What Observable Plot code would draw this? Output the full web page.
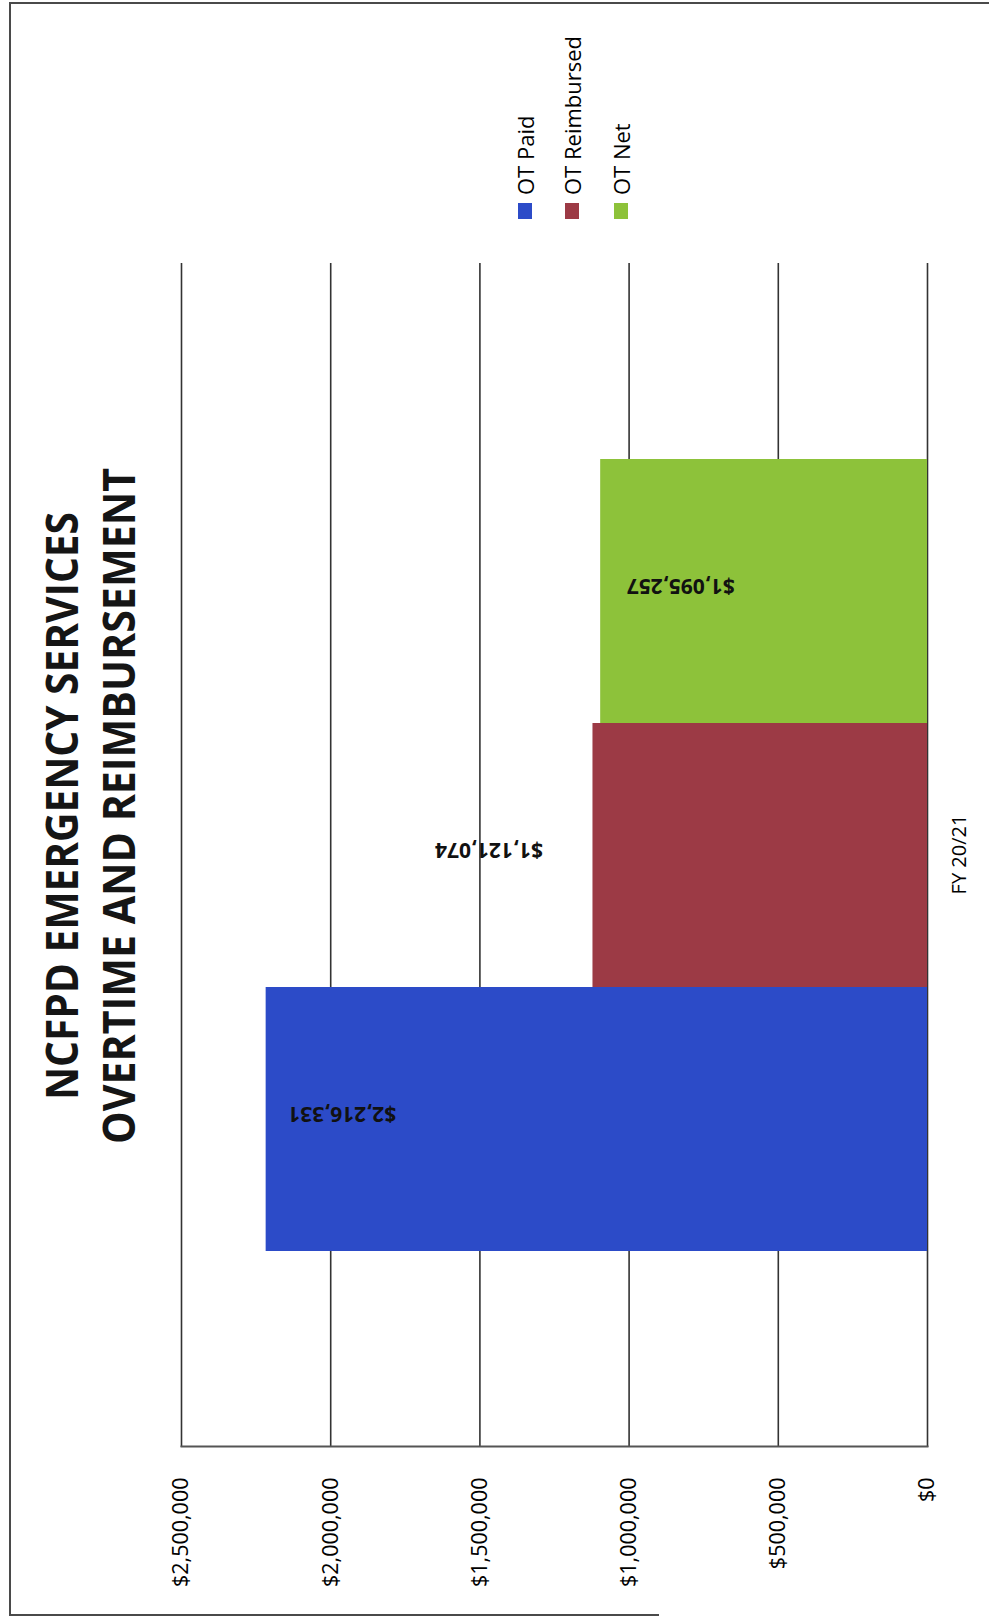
<!DOCTYPE html>
<html>
<head>
<meta charset="utf-8">
<script src="https://cdn.jsdelivr.net/npm/d3@7"></script>
<script src="https://cdn.jsdelivr.net/npm/@observablehq/plot@0.6"></script>
<style>
  body { margin: 0; background: #fff; }
  #page { position: relative; width: 989px; height: 1618px; overflow: hidden; background: #fff; }
  .fl { position: absolute; background: #4a4a4a; }
  #rot { position: absolute; left: 0; top: 0; width: 1618px; height: 989px;
         transform-origin: 0 0; transform: translate(0px, 1618px) rotate(-90deg); }
  #chart { position: absolute; left: 0; top: 0; }
  #title { position: absolute; left: 0; top: 0; }
  #legend { position: absolute; left: 1399px; top: 0; font-family: 'Open Sans', sans-serif; font-size: 22px; color: #000; }
  .li { position: absolute; left: 0; white-space: nowrap; display: flex; align-items: center; height: 30px; }
  .sw { width: 16px; height: 14px; margin-right: 8px; flex: none; }
</style>
</head>
<body>
<div id="page">
  <div class="fl" style="left:9px;top:2px;width:2px;height:1614px"></div>
  <div class="fl" style="left:9px;top:2px;width:980px;height:2px"></div>
  <div class="fl" style="left:9px;top:1614px;width:650px;height:2px"></div>
  <div id="rot">
    <div id="chart"></div>
    <svg id="title" width="1618" height="170"></svg>
    <div id="legend"></div>
  </div>
</div>
<script>
// ---- data ----
const categories = ["FY 20/21"];
const series = ["OT Paid", "OT Reimbursed", "OT Net"];
const values = [2216331, 1121074, 1095257];
const colors = ["#2c4bc8", "#9c3a45", "#8dc23a"];
const yTicks = [0, 500000, 1000000, 1500000, 2000000, 2500000];
const titleLines = ["NCFPD EMERGENCY SERVICES", "OVERTIME AND REIMBURSEMENT"];

const data = series.map((s, i) => ({category: categories[0], series: s, value: values[i]}));
const fmt = d3.format("$,");

// label offsets (style: where each data label sits relative to its bar end)
const labelDy = {"OT Paid": 76, "OT Reimbursed": -104, "OT Net": 80};

const labelMarks = series.map(s => Plot.text(data.filter(d => d.series === s), {
  fx: "category", x: "series", y: "value",
  text: d => fmt(d.value),
  rotate: -90, dy: labelDy[s], dx: 5,
  fontWeight: "bold", fontSize: 21, fill: "#111",
  textAnchor: "middle", lineAnchor: "middle"
}));

const chart = Plot.plot({
  width: 1618,
  height: 989,
  marginTop: 181,
  marginBottom: 62,
  marginLeft: 171,
  marginRight: 263,
  style: {fontFamily: "'Open Sans', sans-serif", background: "transparent", color: "#000"},
  fx: {domain: categories, padding: 0},
  x: {domain: series, paddingInner: 0, paddingOuter: 0.74, axis: null},
  y: {domain: [0, 2500000]},
  color: {domain: series, range: colors},
  marks: [
    Plot.gridY(yTicks, {stroke: "#333", strokeOpacity: 1, strokeWidth: 1.6}),
    Plot.barY(data, {fx: "category", x: "series", y: "value", fill: "series"}),
    Plot.frame({anchor: "left", stroke: "#555", strokeWidth: 2}),
    ...labelMarks,
    Plot.axisY(yTicks, {tickFormat: fmt, tickSize: 0, tickPadding: 31, fontSize: 21.5, fill: "#000", label: null}),
    Plot.axisFx({anchor: "bottom", tickSize: 0, tickPadding: 24, fontSize: 20, fill: "#000", label: null})
  ]
});
document.getElementById("chart").appendChild(chart);

// ---- title ----
const svgNS = "http://www.w3.org/2000/svg";
const tsvg = document.getElementById("title");
const titleY = [78, 135];
const titleLen = [588, 676];
titleLines.forEach((t, i) => {
  const el = document.createElementNS(svgNS, "text");
  el.setAttribute("x", 812);
  el.setAttribute("y", titleY[i]);
  el.setAttribute("text-anchor", "middle");
  el.setAttribute("textLength", titleLen[i]);
  el.setAttribute("lengthAdjust", "spacingAndGlyphs");
  el.setAttribute("font-family", "'Liberation Sans Narrow', 'Open Sans', sans-serif");
  el.setAttribute("font-weight", "bold");
  el.setAttribute("font-size", "45");
  el.setAttribute("fill", "#151515");
  el.textContent = t;
  tsvg.appendChild(el);
});

// ---- legend ----
const legend = document.getElementById("legend");
const legendV = [525, 572, 621];
series.forEach((s, i) => {
  const item = document.createElement("div");
  item.className = "li";
  item.style.top = (legendV[i] - 15) + "px";
  const sw = document.createElement("span");
  sw.className = "sw";
  sw.style.background = colors[i];
  const tx = document.createElement("span");
  tx.textContent = s;
  item.appendChild(sw);
  item.appendChild(tx);
  legend.appendChild(item);
});
</script>
</body>
</html>
